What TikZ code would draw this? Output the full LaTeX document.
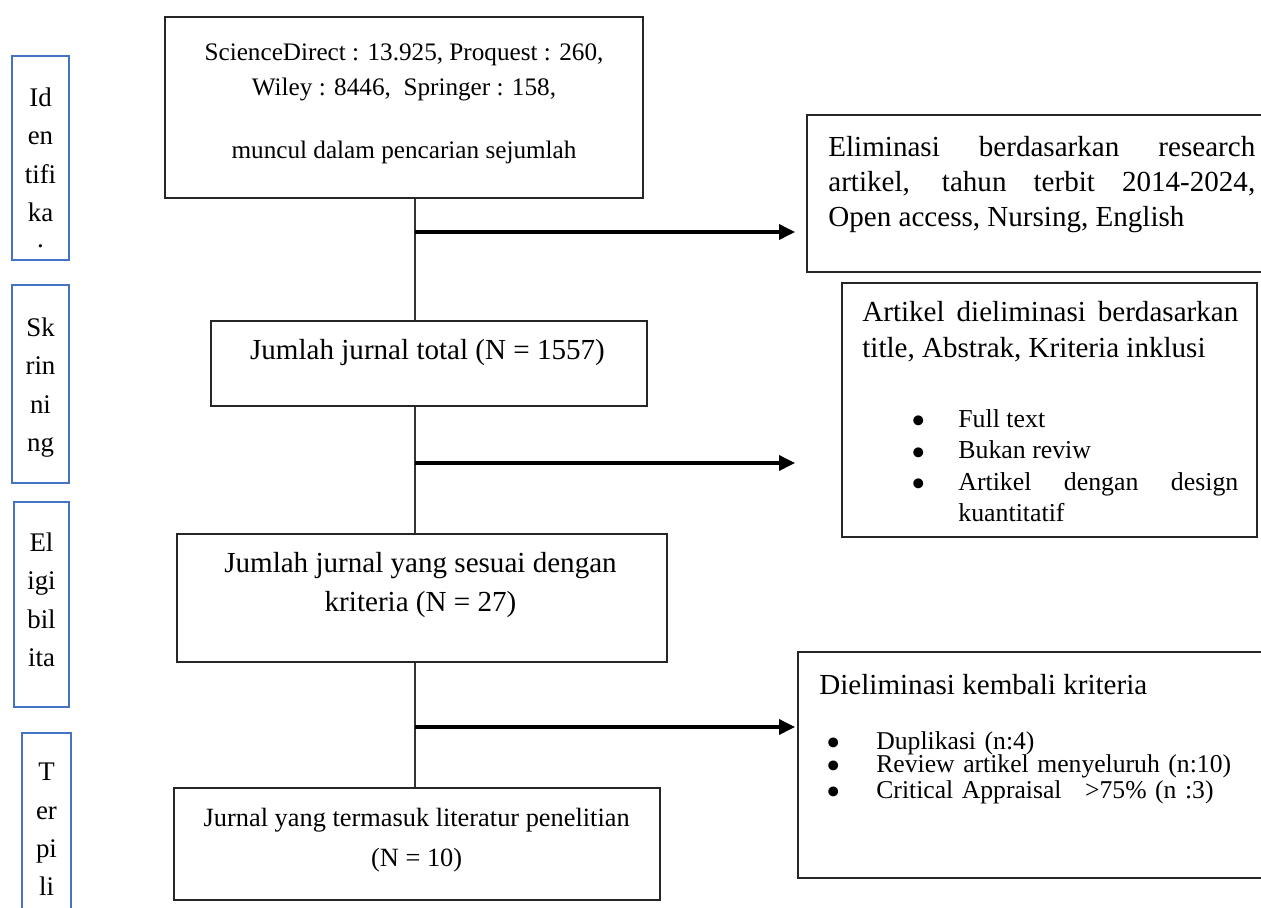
\documentclass[tikz,border=0pt]{standalone}
\usepackage{fontspec}
\setmainfont{Liberation Serif}
\usepackage{graphicx}
\usepackage{xcolor}
\usepackage{tikz}
\usetikzlibrary{arrows.meta,positioning}

\definecolor{lblue}{RGB}{68,114,196}
\hyphenpenalty=10000
\exhyphenpenalty=10000
\tolerance=10000
\newcommand{\bitem}[1]{\par\noindent\llap{\raisebox{-0.28em}{\scalebox{1.6}{\textbullet}}\hspace{#1}}}

\begin{document}
\begin{tikzpicture}[x=0.02cm, y=-0.02cm,
    box/.style={draw=black!85, line width=0.75pt, inner sep=0pt},
    tag/.style={draw=lblue, line width=1.3pt, inner sep=0pt},
    txt/.style={inner sep=0pt, align=center},
    link/.style={draw=black!80, line width=0.75pt},
    arr/.style={line width=1.8pt, -{Triangle[length=9pt,width=8.5pt]}}]

    \useasboundingbox (0,0) rectangle (1261,907);
    \clip (0,0) rectangle (1261,907);

    % Stage labels on the left
    \node (idf) [tag, minimum width=1.14cm, minimum height=4.08cm] at (40.5,158) {};
    \node (idfT) [txt, anchor=north, font=\fontsize{15.3}{21.8}\selectfont] at (40.5,87.6) {Id\\en\\tifi\\ka\\\raisebox{0.45em}{.}};
    \node (skr) [tag, minimum width=1.14cm, minimum height=3.96cm] at (40.5,384) {};
    \node (skrT) [txt, anchor=north, font=\fontsize{15.3}{21.8}\selectfont] at (40.5,317.6) {Sk\\rin\\ni\\ng};
    \node (elg) [tag, minimum width=1.10cm, minimum height=4.10cm] at (41.5,604.5) {};
    \node (elgT) [txt, anchor=north, font=\fontsize{15.3}{21.8}\selectfont] at (41.5,532.6) {El\\igi\\bil\\ita};
    \node (trp) [tag, minimum width=0.98cm, minimum height=3.94cm] at (46.5,831.5) {};
    \node (trpT) [txt, anchor=north, font=\fontsize{15.3}{21.8}\selectfont] at (46.5,763) {T\\er\\pi\\li};

    % Main flow
    \node (src) [box, minimum width=9.56cm, minimum height=3.62cm] at (404,107.5) {};
    \node (srcT) [txt, anchor=north, font=\fontsize{14.34}{19.8}\selectfont] at (404,43.3) {ScienceDirect : 13.925, Proquest : 260,\\Wiley : 8446,~ Springer : 158,\\[16.5pt]muncul dalam pencarian sejumlah};
    \node (tot) [box, minimum width=8.72cm, minimum height=1.70cm] at (429,363.5) {};
    \node (totT) [txt, anchor=north, font=\fontsize{16.55}{20}\selectfont] at (427.5,339) {Jumlah jurnal total (N = 1557)};
    \node (elig) [box, minimum width=9.80cm, minimum height=2.56cm] at (422,598) {};
    \node (eligT) [txt, anchor=north, font=\fontsize{16.55}{22.1}\selectfont] at (420.5,552) {Jumlah jurnal yang sesuai dengan\\kriteria (N = 27)};
    \node (incl) [box, minimum width=9.72cm, minimum height=2.24cm] at (417,844) {};
    \node (inclT) [txt, anchor=north, font=\fontsize{15}{22.7}\selectfont] at (416.7,808) {Jurnal yang termasuk literatur penelitian\\(N = 10)};

    % Exclusion boxes
    \node (ex1) [box, minimum width=9.46cm, minimum height=3.14cm] at (1043.5,193.5) {};
    \node (ex1T) [inner sep=0pt, anchor=north west, text width=8.54cm, align=justify, font=\fontsize{16.55}{19.8}\selectfont] at (828,136) {Eliminasi berdasarkan research\linebreak artikel, tahun terbit 2014-2024,\linebreak Open access, Nursing, English};
    \node (ex2) [box, minimum width=8.30cm, minimum height=5.08cm] at (1049.5,410) {};
    \node (ex2T) [inner sep=0pt, anchor=north west, text width=7.52cm, align=justify, font=\fontsize{16.55}{20.4}\selectfont] at (862,301) {Artikel dieliminasi berdasarkan title, Abstrak, Kriteria inklusi};
    \node (ex2L) [inner sep=0pt, anchor=north west, text width=5.6cm, align=justify, font=\fontsize{14.7}{17.8}\selectfont] at (958,396) {\parskip=0pt\bitem{0.65cm}Full text\bitem{0.65cm}Bukan reviw\bitem{0.65cm}Artikel dengan design kuantitatif};
    \node (ex3) [box, minimum width=9.64cm, minimum height=4.52cm] at (1039,765) {};
    \node (ex3T) [inner sep=0pt, anchor=north west, font=\fontsize{16.55}{20}\selectfont] at (819,674) {Dieliminasi kembali kriteria};
    \node (ex3L) [inner sep=0pt, anchor=north west, text width=7.6cm, align=left, font=\fontsize{14.6}{13}\selectfont] at (876,726) {\parskip=0pt\lineskiplimit=-20pt\bitem{0.71cm}Duplikasi (n:4)\bitem{0.71cm}Review artikel menyeluruh (n:10)\bitem{0.71cm}Critical Appraisal\hspace{0.3cm} >75\% (n :3)};

    % Trunk and arrows
    \coordinate (tk) at (415,0);
    \draw[link] (src.south -| tk) -- (tot.north -| tk);
    \draw[link] (tot.south -| tk) -- (elig.north -| tk);
    \draw[link] (elig.south -| tk) -- (incl.north -| tk);

    \coordinate (b1) at (415,232);
    \coordinate (e1) at (795,232);
    \coordinate (b2) at (415,463);
    \coordinate (e2) at (795,463);
    \coordinate (b3) at (415,727);
    \coordinate (e3) at (795,727);
    \draw[arr] (b1) -- (e1);
    \draw[arr] (b2) -- (e2);
    \draw[arr] (b3) -- (e3);
\end{tikzpicture}
\end{document}
